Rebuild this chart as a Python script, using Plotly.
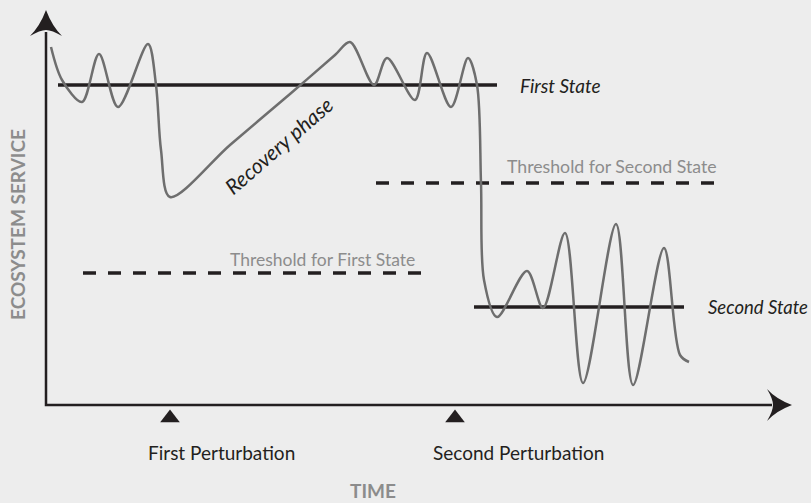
import plotly.graph_objects as go

# ---- data (time units, ecosystem-service units; origin at axes crossing) ----
curve_time = [5, 16, 36, 53, 72, 102, 110, 115, 124, 184, 244, 289, 304, 328, 341, 369, 381, 405, 422,
              431, 435, 438, 451, 481, 497, 519, 537, 570, 587, 618, 634, 643]
curve_service = [358, 325, 303, 351, 298, 361, 320, 255, 208, 260, 311, 350, 363, 320, 347, 305, 352, 298, 347,
                 320, 222, 125, 88, 134, 97, 172, 22, 181, 20, 157, 50, 43]

first_state_time = [12, 451]
first_state_level = [320, 320]
second_state_time = [428, 638]
second_state_level = [98, 98]
threshold2_time = [330, 676]
threshold2_level = [222, 222]
threshold1_time = [37, 382]
threshold1_level = [132, 132]

perturbation_time = [124, 409]
perturbation_labels = ["First Perturbation", "Second Perturbation"]
perturbation_label_time = [175, 472]

x_axis_end = 746
y_axis_end = 395

FONT = "Lato, Roboto, sans-serif"
BG = "#ededed"
DARK = "#231f20"
GRAY = "#8c8c8c"

fig = go.Figure()

# axes lines
fig.add_trace(go.Scatter(x=[0, 0, x_axis_end - 20], y=[y_axis_end - 22, 0, 0], mode="lines",
                         line=dict(color=DARK, width=2.5), hoverinfo="skip"))

# state lines
fig.add_trace(go.Scatter(x=first_state_time, y=first_state_level, mode="lines",
                         line=dict(color=DARK, width=3.5)))
fig.add_trace(go.Scatter(x=second_state_time, y=second_state_level, mode="lines",
                         line=dict(color=DARK, width=3.5)))
fig.add_trace(go.Scatter(x=threshold2_time, y=threshold2_level, mode="lines",
                         line=dict(color=DARK, width=3.5, dash="13px,12px")))
fig.add_trace(go.Scatter(x=threshold1_time, y=threshold1_level, mode="lines",
                         line=dict(color=DARK, width=3.5, dash="13px,12px")))

# curve
fig.add_trace(go.Scatter(x=curve_time, y=curve_service, mode="lines",
                         line=dict(color="#6e6e6e", width=2.5, shape="spline", smoothing=0.9)))

# perturbation markers
fig.add_trace(go.Scatter(x=perturbation_time, y=[-13] * len(perturbation_time), mode="markers",
                         marker=dict(symbol="triangle-up", size=17, color=DARK)))

# arrowheads
fig.add_shape(type="path", xref="x", yref="y",
              path=f"M 0 {y_axis_end} Q -6 {y_axis_end-16} -16 {y_axis_end-26} "
                   f"Q -6 {y_axis_end-20} 0 {y_axis_end-20} Q 6 {y_axis_end-20} 16 {y_axis_end-26} "
                   f"Q 6 {y_axis_end-16} 0 {y_axis_end} Z",
              fillcolor=DARK, line=dict(width=0))
fig.add_shape(type="path", xref="x", yref="y",
              path=f"M {x_axis_end} 0 Q {x_axis_end-16} 6 {x_axis_end-25} 16 "
                   f"Q {x_axis_end-19} 6 {x_axis_end-19} 0 Q {x_axis_end-19} -6 {x_axis_end-25} -16 "
                   f"Q {x_axis_end-16} -6 {x_axis_end} 0 Z",
              fillcolor=DARK, line=dict(width=0))

ann = []
ann.append(dict(x=472, y=320, text="<i>First State</i>", xanchor="left", yanchor="middle",
                font=dict(family=FONT, size=19, color=DARK)))
ann.append(dict(x=660, y=98, text="<i>Second State</i>", xanchor="left", yanchor="middle",
                font=dict(family=FONT, size=18.5, color=DARK)))
ann.append(dict(x=459, y=239, text="Threshold for Second State", xanchor="left", yanchor="middle",
                font=dict(family=FONT, size=17.7, color=GRAY)))
ann.append(dict(x=182, y=146, text="Threshold for First State", xanchor="left", yanchor="middle",
                font=dict(family=FONT, size=17.5, color=GRAY)))
ann.append(dict(x=232, y=260, text="<i>Recovery phase</i>", xanchor="center", yanchor="middle",
                textangle=-41, font=dict(family=FONT, size=21, color=DARK)))
for t, lab in zip(perturbation_label_time, perturbation_labels):
    ann.append(dict(x=t, y=-47, text=lab, xanchor="center", yanchor="middle",
                    font=dict(family=FONT, size=19, color=DARK)))
ann.append(dict(x=327, y=-85, text="<b>TIME</b>", xanchor="center", yanchor="middle",
                font=dict(family=FONT, size=19, color=GRAY)))
ann.append(dict(x=-29, y=180, text="<b>ECOSYSTEM SERVICE</b>", xanchor="center", yanchor="middle",
                textangle=-90, font=dict(family=FONT, size=19, color=GRAY)))
for a in ann:
    a.update(xref="x", yref="y", showarrow=False)

fig.update_layout(
    width=811, height=503, margin=dict(l=0, r=0, t=0, b=0),
    paper_bgcolor=BG, plot_bgcolor=BG, showlegend=False,
    xaxis=dict(range=[-46, 765], visible=False, fixedrange=True),
    yaxis=dict(range=[-98, 405], visible=False, fixedrange=True),
    annotations=ann,
)

fig.write_html("out.html", post_script="document.body.style.margin='0px';",
               config={"displayModeBar": False})
